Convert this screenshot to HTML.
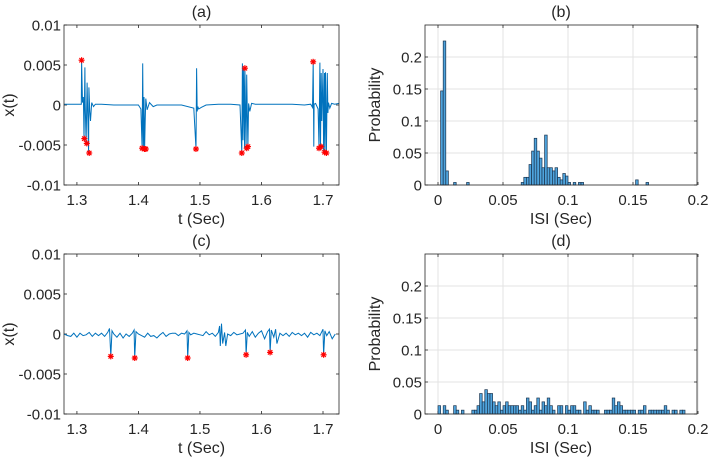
<!DOCTYPE html>
<html><head><meta charset="utf-8"><style>
body{margin:0;background:#fff;}
svg{display:block;font-family:"Liberation Sans",sans-serif;}
</style></head><body>
<svg id="fig" width="708" height="458"></svg>
<script>
// ---- data ----
const traceA_t=[1.279,1.29,1.30,1.305,1.3072,1.3076,1.309,1.3105,1.3115,1.313,1.3135,1.315,1.3165,1.3175,1.319,1.3195,1.321,1.322,1.324,1.327,1.33,1.34,1.36,1.38,1.40,1.404,1.406,1.407,1.408,1.409,1.410,1.411,1.412,1.414,1.418,1.424,1.43,1.45,1.47,1.49,1.4935,1.4945,1.4955,1.4965,1.498,1.502,1.51,1.53,1.55,1.565,1.568,1.569,1.570,1.571,1.5725,1.573,1.575,1.576,1.577,1.578,1.579,1.581,1.584,1.59,1.62,1.65,1.67,1.68,1.683,1.684,1.685,1.6855,1.688,1.692,1.6935,1.695,1.696,1.697,1.698,1.700,1.701,1.7025,1.703,1.704,1.7055,1.707,1.708,1.709,1.711,1.714,1.719,1.726];
const traceA_v=[0.0001,0.0001,0.0001,0.0001,0.0001,0.0056,0.0003,0.001,-0.0042,0.0047,0.0002,-0.0048,0.0028,-0.001,-0.006,0.0022,-0.0008,-0.002,0.0003,-0.0002,0.0001,0.0001,0,0,0,-0.0005,-0.0054,0.0052,-0.0055,0.001,-0.0055,-0.002,0.0008,-0.0006,0.0003,-0.0002,0,0,0,-0.0004,-0.0055,0.0046,-0.0008,-0.0002,-0.0005,-0.0003,0,0.0001,0.0001,0,-0.006,0.0052,-0.0044,0.0046,-0.0054,0.0045,-0.0052,0.0038,-0.001,-0.0052,0.0002,-0.0008,0.0002,0.0001,0.0001,0.0001,0,0.0001,-0.0003,0.0054,-0.0052,0.0001,0.0002,-0.0005,-0.0054,0.0053,-0.0052,0.0040,-0.002,0.0045,-0.0059,0.0040,-0.0059,0.0041,-0.006,0.0040,-0.001,0.0003,-0.0004,0.0002,0.0001,0.0002];
const starsA_t=[1.3076,1.312,1.316,1.320,1.406,1.410,1.412,1.4935,1.568,1.573,1.576,1.578,1.684,1.6935,1.697,1.7025,1.7055];
const starsA_v=[0.0056,-0.0042,-0.0048,-0.006,-0.0054,-0.0055,-0.0055,-0.0055,-0.006,0.0046,-0.0054,-0.0052,0.0054,-0.0054,-0.0052,-0.0059,-0.006];
const traceC_t=[1.279,1.285,1.29,1.295,1.30,1.305,1.31,1.315,1.32,1.325,1.33,1.335,1.34,1.345,1.35,1.353,1.355,1.357,1.36,1.365,1.37,1.375,1.38,1.385,1.39,1.393,1.394,1.396,1.40,1.405,1.41,1.415,1.42,1.425,1.43,1.435,1.44,1.445,1.45,1.455,1.46,1.465,1.47,1.475,1.479,1.480,1.482,1.485,1.49,1.495,1.50,1.505,1.51,1.515,1.52,1.525,1.53,1.532,1.533,1.535,1.537,1.54,1.542,1.545,1.55,1.555,1.56,1.565,1.57,1.574,1.575,1.577,1.58,1.585,1.59,1.595,1.60,1.605,1.61,1.613,1.614,1.616,1.62,1.623,1.625,1.63,1.635,1.64,1.645,1.65,1.655,1.66,1.665,1.67,1.675,1.68,1.685,1.69,1.695,1.70,1.701,1.703,1.706,1.71,1.715,1.72];
const traceC_v=[0,-0.0002,-0.0003,0.0001,-0.0004,0.0001,-0.0002,-0.0001,0.0002,-0.0003,0.0001,-0.0002,0.0001,-0.0003,0.0002,0.0007,-0.0028,0.0004,0,-0.0004,0.0001,-0.0005,0,-0.0003,0.0001,0.0005,-0.003,0.0003,0,-0.0002,-0.0004,0.0001,-0.0003,-0.0002,-0.0005,-0.0001,0.0002,-0.0003,0,0.0001,0.0001,-0.0002,0.0001,0,0.0004,-0.003,0.0002,-0.0001,0.0001,0,-0.0001,-0.0002,0.0003,-0.0001,0.0001,-0.0003,0.0002,0.001,-0.0015,0.0013,-0.0012,0.0002,-0.0015,0,-0.0002,0.0002,-0.0001,0,0.0001,0.0005,-0.0026,0.0002,-0.0003,0.0003,-0.0004,0.0001,0.0004,-0.0006,0.0003,0.0006,-0.0023,0.0005,-0.0004,0.0006,-0.0012,0.0001,-0.0002,0.0001,-0.0003,0.0002,-0.0001,0.0001,-0.0002,0.0001,-0.0004,0.0002,-0.0001,0.0001,-0.0002,0.0006,-0.0026,0.0004,-0.0002,0.0003,-0.0006,0];
const starsC_t=[1.355,1.394,1.480,1.575,1.614,1.701];
const starsC_v=[-0.0028,-0.003,-0.003,-0.0026,-0.0023,-0.0026];
const histB_x=[0.002,0.004,0.006,0.012,0.022,0.064,0.066,0.068,0.070,0.072,0.074,0.076,0.078,0.080,0.082,0.084,0.086,0.088,0.090,0.092,0.094,0.096,0.098,0.100,0.104,0.108,0.110,0.152,0.160];
const histB_p=[0.147,0.225,0.022,0.004,0.004,0.004,0.012,0.012,0.032,0.053,0.073,0.053,0.042,0.027,0.078,0.027,0.027,0.022,0.027,0.012,0.008,0.018,0.014,0.004,0.004,0.004,0.004,0.008,0.004];
const histD_x=[0.000,0.004,0.006,0.012,0.014,0.018,0.026,0.028,0.030,0.032,0.034,0.036,0.038,0.040,0.042,0.044,0.046,0.048,0.050,0.052,0.054,0.056,0.058,0.060,0.062,0.064,0.066,0.068,0.070,0.072,0.074,0.076,0.078,0.080,0.082,0.084,0.086,0.088,0.092,0.094,0.098,0.100,0.102,0.104,0.106,0.108,0.112,0.114,0.116,0.118,0.120,0.122,0.128,0.130,0.132,0.134,0.136,0.138,0.140,0.142,0.144,0.146,0.148,0.150,0.154,0.156,0.158,0.162,0.164,0.166,0.168,0.170,0.172,0.174,0.176,0.180,0.182,0.186,0.188];
const histD_p=[0.013,0.013,0.006,0.013,0.006,0.006,0.006,0.006,0.013,0.032,0.019,0.038,0.032,0.032,0.019,0.013,0.019,0.006,0.013,0.019,0.013,0.013,0.013,0.013,0.006,0.013,0.006,0.025,0.019,0.006,0.013,0.025,0.006,0.019,0.013,0.025,0.013,0.006,0.013,0.013,0.013,0.006,0.013,0.013,0.006,0.006,0.019,0.006,0.013,0.006,0.006,0.006,0.006,0.006,0.006,0.025,0.013,0.019,0.013,0.006,0.006,0.006,0.006,0.006,0.006,0.006,0.013,0.006,0.006,0.006,0.006,0.006,0.006,0.013,0.006,0.006,0.006,0.006,0.006];
const tTicks=[1.3,1.4,1.5,1.6,1.7];
const tTickLabels=["1.3","1.4","1.5","1.6","1.7"];
const xyTicks=[-0.01,-0.005,0,0.005,0.01];
const xyTickLabels=["-0.01","-0.005","0","0.005","0.01"];
const isiTicks=[0,0.05,0.1,0.15,0.2];
const isiTickLabels=["0","0.05","0.1","0.15","0.2"];
const pTicks=[0,0.05,0.1,0.15,0.2];
const pTickLabels=["0","0.05","0.1","0.15","0.2"];
const binW=0.002;

// ---- drawing ----
const NS="http://www.w3.org/2000/svg";
const svg=document.getElementById('fig');
function mk(tag,attrs,parent){const e=document.createElementNS(NS,tag);for(const k in attrs)e.setAttribute(k,attrs[k]);(parent||svg).appendChild(e);return e;}
function txt(s,x,y,size,anchor,parent,rot){const e=mk('text',{x:x,y:y,'font-size':size,'text-anchor':anchor,fill:'#262626'},parent);if(rot)e.setAttribute('transform','rotate(-90 '+x+' '+y+')');e.textContent=s;return e;}
function lin(d0,d1,r0,r1){return v=>r0+(v-d0)/(d1-d0)*(r1-r0);}

function axesFrame(g,L,T,R,B,sx,sy,xt,xl,yt,yl,grid,title,xlab,ylab,ylabX){
  if(grid){
    xt.forEach(v=>{const l=mk('line',{x1:sx(v),x2:sx(v),y1:T,y2:B,stroke:'#e3e3e3','stroke-width':1},g);});
    yt.forEach(v=>{const l=mk('line',{x1:L,x2:R,y1:sy(v),y2:sy(v),stroke:'#e3e3e3','stroke-width':1},g);});
  }
  xt.forEach((v,i)=>{const x=sx(v);
    mk('line',{x1:x,x2:x,y1:B,y2:B-3,stroke:'#262626','stroke-width':0.8},g);
    mk('line',{x1:x,x2:x,y1:T,y2:T+3,stroke:'#262626','stroke-width':0.8},g);
    const t=txt(xl[i],x,B+20,15,'middle',g);});
  yt.forEach((v,i)=>{const y=sy(v);
    mk('line',{x1:L,x2:L+3,y1:y,y2:y,stroke:'#262626','stroke-width':0.8},g);
    mk('line',{x1:R,x2:R-3,y1:y,y2:y,stroke:'#262626','stroke-width':0.8},g);
    const t=txt(yl[i],L-3,y+5.5,15,'end',g);});
  const tt=txt(title,(L+R)/2,T-8,16,'middle',g);
  const xa=txt(xlab,(L+R)/2,B+39,16,'middle',g);
  const ya=txt(ylab,ylabX,(T+B)/2,16,'middle',g,true);
}
function box(g,L,T,R,B){const r=mk('rect',{x:L,y:T,width:R-L,height:B-T,fill:'none',stroke:'#262626','stroke-width':0.8},g);}

function star(g,x,y){
  const s=mk('g',{stroke:'#ff0000','stroke-width':1.2},g);
  
  
  mk('line',{x1:x-3,x2:x+3,y1:y,y2:y},s);mk('line',{x1:x,x2:x,y1:y-3,y2:y+3},s);
  mk('line',{x1:x-2.2,x2:x+2.2,y1:y-2.2,y2:y+2.2},s);mk('line',{x1:x-2.2,x2:x+2.2,y1:y+2.2,y2:y-2.2},s);
}

function signalPanel(name,T,B,title,tt,tv,st,sv){
  const L=64,R=339;
  const g=mk('g',{});
  const sx=lin(1.279,1.726,L,R), sy=lin(-0.01,0.01,B,T);
  axesFrame(g,L,T,R,B,sx,sy,tTicks,tTickLabels,xyTicks,xyTickLabels,false,title,'t (Sec)','x(t)',14);
  const p=mk('polyline',{points:tt.map((t,i)=>sx(t).toFixed(1)+','+sy(tv[i]).toFixed(1)).join(' '),fill:'none',stroke:'#0072BD','stroke-width':1},g);
  
  st.forEach((t,i)=>star(g,sx(t),sy(sv[i])));
  box(g,L,T,R,B);
}
function histPanel(name,T,B,title,hx,hp){
  const L=425,R=697;
  const g=mk('g',{});
  const sx=lin(0,0.2,438,698), sy=lin(0,0.25,B,T);
  axesFrame(g,L,T,R,B,sx,sy,isiTicks,isiTickLabels,pTicks,pTickLabels,true,title,'ISI (Sec)','Probability',380);
  hx.forEach((x,i)=>{const x0=sx(x),x1=sx(x+binW),y=sy(hp[i]);
    const r=mk('rect',{x:x0,y:y,width:x1-x0,height:B-y,fill:'#4ea3dc',stroke:'#1a3550','stroke-width':0.7},g);
    });
  box(g,L,T,R,B);
}
signalPanel('panel-a-signal',25,185,'(a)',traceA_t,traceA_v,starsA_t,starsA_v);
histPanel('panel-b-histogram',25,185,'(b)',histB_x,histB_p);
signalPanel('panel-c-signal',254,414,'(c)',traceC_t,traceC_v,starsC_t,starsC_v);
histPanel('panel-d-histogram',254,414,'(d)',histD_x,histD_p);
</script>
</body></html>
